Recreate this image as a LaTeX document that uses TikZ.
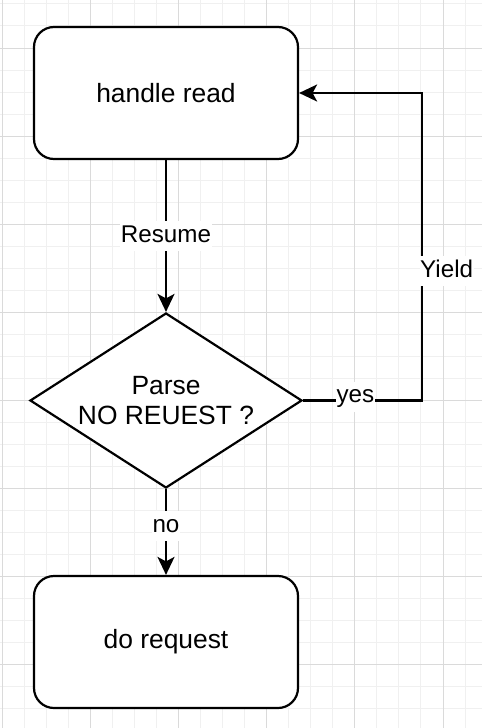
\documentclass[tikz,border=0pt]{standalone}
\usepackage{fontspec}
\setmainfont{Liberation Sans}
\usetikzlibrary{arrows.meta,shapes.geometric}
\definecolor{gridminor}{HTML}{F0F0F0}
\definecolor{gridmajor}{HTML}{DADADA}
\begin{document}
\begin{tikzpicture}[x=1pt,y=-1pt,
  box/.style={draw,line width=2.2pt,rounded corners=20pt,minimum width=264pt,minimum height=132pt,fill=white,font=\fontsize{26.4}{30.4}\selectfont},
  decision/.style={diamond,draw,line width=2.2pt,aspect=1.55,inner sep=1pt,minimum width=272pt,minimum height=175pt,fill=white,align=center,font=\fontsize{26.4}{30.4}\selectfont},
  arr/.style={line width=2.2pt,-{Stealth[length=18pt,width=17pt,inset=4.5pt]}},
  lbl/.style={fill=white,inner xsep=0.5pt,inner ysep=3pt,text height=18pt,text depth=6pt,font=\fontsize{24.2}{28}\selectfont}
]
\useasboundingbox (0,0) rectangle (482,728);
\fill[white] (0,0) rectangle (482,728);
% grid
\foreach \i in {0,...,22} {
  \draw[gridminor,line width=1pt] ({2.5+22.025*\i},0) -- ({2.5+22.025*\i},728);
}
\foreach \i in {0,...,33} {
  \draw[gridminor,line width=1pt] (0,{3.95+22.025*\i}) -- (482,{3.95+22.025*\i});
}
\foreach \i in {0,...,5} {
  \draw[gridmajor,line width=1pt] ({2.5+88.1*\i},0) -- ({2.5+88.1*\i},728);
}
\foreach \i in {0,...,7} {
  \draw[gridmajor,line width=1pt] (0,{48+88.1*\i}) -- (482,{48+88.1*\i});
}
% nodes
\node[box] (hr) at (166,93) {handle read};
\node[decision] (dec) at (166,400.5) {Parse\\NO REUEST ?};
\node[box] (dr) at (166,642) {do request};
\coordinate (turn) at (422,400.5);
% edges
\draw[arr] (hr) -- node[lbl]{Resume} (dec);
\draw[arr] (dec) -- node[lbl,anchor=base,pos=0.5]{no} (dr);
\draw[arr] (dec.east) -- node[lbl,anchor=base,pos=0.44,yshift=-2pt]{yes} (turn) |- (hr.east);
\node[lbl,anchor=base west] (yield) at (419.5,277) {Yield};
\end{tikzpicture}
\end{document}
